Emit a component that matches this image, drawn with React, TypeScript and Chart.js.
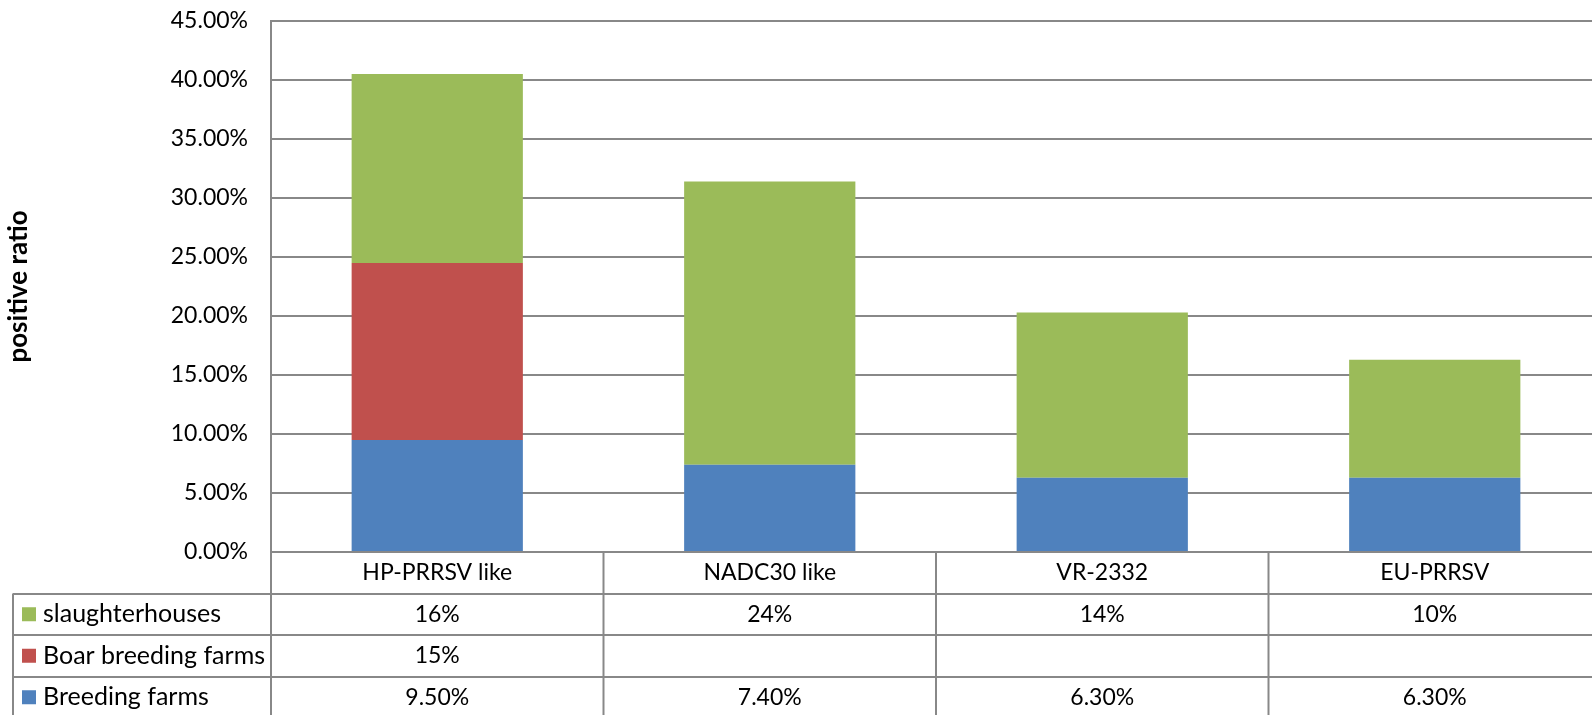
import React, { useEffect, useRef } from "react";
import { Chart, registerables } from "chart.js";

Chart.register(...registerables);

const categories = ["HP-PRRSV like", "NADC30 like", "VR-2332", "EU-PRRSV"];
const breedingFarms = [9.5, 7.4, 6.3, 6.3];
const boarBreedingFarms = [15, null, null, null];
const slaughterhouses = [16, 24, 14, 10];
const breedingLabels = ["9.50%", "7.40%", "6.30%", "6.30%"];
const boarLabels = ["15%", "", "", ""];
const slaughterLabels = ["16%", "24%", "14%", "10%"];
const seriesNames = ["slaughterhouses", "Boar breeding farms", "Breeding farms"];
const yMax = 45;
const yStep = 5;

const COLORS = {
  blue: "#4F81BD",
  red: "#C0504D",
  green: "#9BBB59",
  grid: "#888888",
};
const FONT = "Lato";

const W = 1601;
const H = 720;

const tablePlugin = {
  id: "dataTable",
  afterDraw(chart: any) {
    const ctx = chart.ctx;
    const area = chart.chartArea;
    const n = categories.length;
    const cw = (area.right - area.left) / n;
    const rowH = 41.5;
    const top = area.bottom;
    const tableLeft = 13;
    const rows = [
      { name: seriesNames[0], color: COLORS.green, labels: slaughterLabels },
      { name: seriesNames[1], color: COLORS.red, labels: boarLabels },
      { name: seriesNames[2], color: COLORS.blue, labels: breedingLabels },
    ];
    const bottom = top + rowH * 4;
    ctx.save();
    ctx.strokeStyle = COLORS.grid;
    ctx.lineWidth = 2;
    for (let r = 1; r <= 4; r++) {
      const y = Math.round(top + rowH * r);
      ctx.beginPath();
      ctx.moveTo(tableLeft, y);
      ctx.lineTo(area.right, y);
      ctx.stroke();
    }
    ctx.beginPath();
    ctx.moveTo(tableLeft, top + rowH);
    ctx.lineTo(tableLeft, bottom);
    ctx.stroke();
    for (let i = 0; i <= n; i++) {
      const x = area.left + cw * i;
      ctx.beginPath();
      ctx.moveTo(x, top);
      ctx.lineTo(x, bottom);
      ctx.stroke();
    }
    ctx.fillStyle = "#000";
    ctx.font = `23px ${FONT}`;
    ctx.textBaseline = "middle";
    ctx.textAlign = "center";
    const xs = chart.scales.x;
    for (let i = 0; i < n; i++) {
      const cx = xs.getPixelForValue(i);
      ctx.fillText(categories[i], cx, top + rowH / 2);
      rows.forEach((row, r) => {
        const cy = top + rowH * (r + 1) + rowH / 2;
        if (row.labels[i]) ctx.fillText(row.labels[i], cx, cy);
      });
    }
    ctx.textAlign = "left";
    ctx.font = `25px ${FONT}`;
    rows.forEach((row, r) => {
      const cy = top + rowH * (r + 1) + rowH / 2;
      ctx.fillStyle = row.color;
      ctx.fillRect(22, cy - 7, 14, 14);
      ctx.fillStyle = "#000";
      ctx.fillText(row.name, 43, cy);
    });
    ctx.restore();
  },
};

export default function App() {
  const ref = useRef<HTMLCanvasElement>(null);
  useEffect(() => {
    if (!ref.current) return;
    const chart = new Chart(ref.current, {
      type: "bar",
      data: {
        labels: categories,
        datasets: [
          { label: seriesNames[2], data: breedingFarms, backgroundColor: COLORS.blue },
          { label: seriesNames[1], data: boarBreedingFarms as any, backgroundColor: COLORS.red },
          { label: seriesNames[0], data: slaughterhouses, backgroundColor: COLORS.green },
        ],
      },
      options: {
        animation: false,
        responsive: false,
        devicePixelRatio: 1,
        layout: { autoPadding: false, padding: { top: 21, right: 0, bottom: H - 552, left: 0 } },
        plugins: { legend: { display: false }, tooltip: { enabled: false } },
        datasets: { bar: { barPercentage: 0.515, categoryPercentage: 1, borderWidth: 0 } },
        scales: {
          x: { stacked: true, display: false },
          y: {
            stacked: true,
            min: 0,
            max: yMax,
            afterFit: (s: any) => {
              s.width = 271;
              s.paddingTop = 0;
              s.paddingBottom = 0;
            },
            ticks: {
              stepSize: yStep,
              color: "#000",
              padding: 23,
              font: { family: FONT, size: 23 },
              callback: (v: any) => Number(v).toFixed(2) + "%",
            },
            grid: { color: COLORS.grid, lineWidth: 2, drawTicks: false },
            border: { display: true, color: COLORS.grid, width: 2 },
            title: {
              display: true,
              text: "positive ratio",
              color: "#000",
              font: { family: FONT, size: 26, weight: "bold" },
              padding: { top: 3, bottom: 0 },
            },
          },
        },
      },
      plugins: [tablePlugin],
    });
    return () => chart.destroy();
  }, []);
  return (
    <div style={{ position: "absolute", left: 0, top: 0, width: 1592, height: 715, overflow: "hidden", background: "#fff" }}>
      <canvas ref={ref} width={W} height={H} style={{ display: "block", width: W, height: H }} />
    </div>
  );
}
